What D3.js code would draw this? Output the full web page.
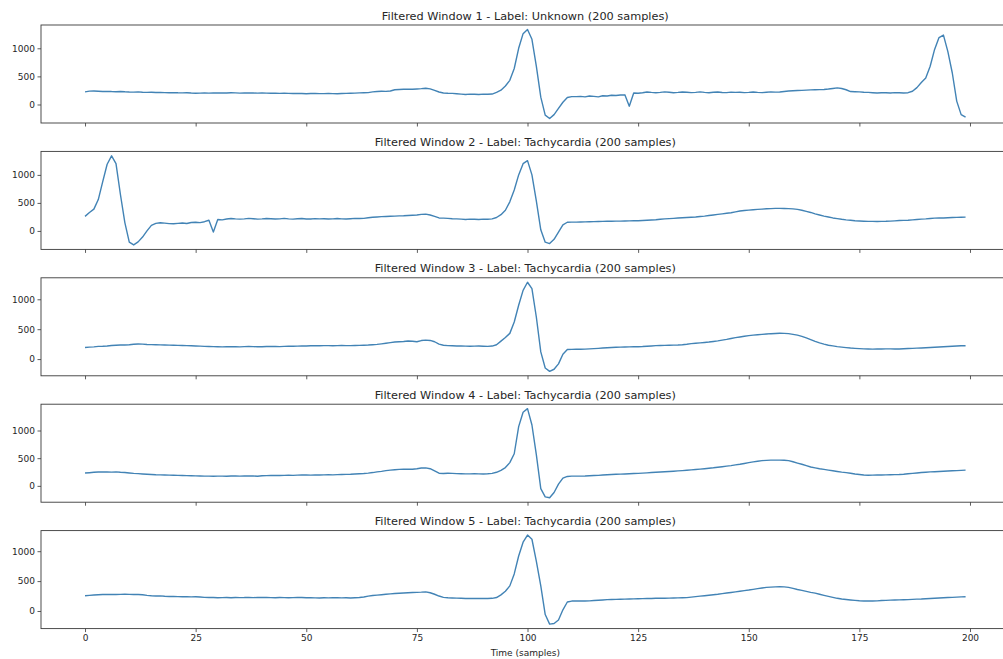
<!DOCTYPE html>
<html><head><meta charset="utf-8">
<script src="https://cdn.jsdelivr.net/npm/d3@7"></script>
<style>body{margin:0;background:#fff}svg{display:block}</style>
</head><body><svg id="c" width="1003" height="659"></svg>
<script>
const windowIds = [1, 2, 3, 4, 5];
const windowLabels = ["Unknown", "Tachycardia", "Tachycardia", "Tachycardia", "Tachycardia"];
const sampleCount = 200;
const xTicks = [0, 25, 50, 75, 100, 125, 150, 175, 200];
const yTicks = [0, 500, 1000];
const xLabel = "Time (samples)";

const w1 = [
225,238,240,236,232,234,230,228,232,226,
222,220,224,218,216,218,214,215,212,210,
212,208,206,210,204,200,202,206,203,205,
207,204,205,208,206,203,205,207,204,202,
205,203,200,202,198,200,197,195,198,196,
192,195,197,194,193,196,194,192,195,198,
200,203,206,210,212,225,232,236,234,240,
262,268,270,272,270,276,282,290,278,250,
222,205,200,198,192,185,178,185,182,178,
185,182,186,215,255,330,430,640,1000,1260,
1335,1160,680,130,-190,-250,-180,-70,40,125,
140,140,145,135,150,145,135,155,150,165,
160,168,172,-30,205,200,210,222,215,210,
215,225,218,210,215,222,218,212,216,224,
215,210,218,222,214,212,220,215,218,212,
215,222,216,212,218,225,220,222,232,240,
245,250,252,256,260,262,265,268,275,285,
295,285,262,230,228,225,218,215,210,205,
210,208,205,212,210,205,210,235,300,390,
470,680,980,1190,1235,940,560,60,-180,-225];

const w2 = [
260,330,390,560,880,1190,1340,1200,650,150,
-200,-250,-195,-110,0,100,135,145,140,130,
128,135,142,132,150,155,148,165,190,-20,
205,198,212,222,215,210,215,225,218,210,
215,222,218,212,216,224,215,210,218,222,
214,212,220,215,218,212,215,222,216,212,
218,225,222,225,235,245,250,255,258,262,
265,268,270,275,280,285,295,300,285,260,
232,228,225,218,215,210,205,210,208,205,
210,208,215,240,290,370,520,730,1000,1200,
1255,1000,530,20,-200,-225,-150,-20,110,155,
158,158,160,162,165,166,168,170,172,174,
175,176,178,180,181,183,186,190,195,200,
208,215,220,225,230,235,240,245,250,258,
265,275,285,295,305,315,325,340,355,365,
372,378,385,390,395,398,402,403,400,398,
393,385,370,350,330,305,285,265,248,232,
220,208,198,190,182,178,174,171,170,169,
170,172,176,180,185,188,192,198,205,210,
215,222,228,230,232,236,240,242,245,247];

const w3 = [
195,200,205,212,215,220,228,232,235,236,
240,248,252,250,245,242,240,238,236,234,
232,230,228,225,222,220,216,212,210,208,
206,205,207,208,206,205,208,210,208,206,
207,210,212,210,208,212,215,214,216,218,
220,222,224,222,225,226,224,225,228,226,
225,228,230,232,235,240,246,255,265,275,
285,290,295,302,298,290,310,318,312,290,
250,232,225,222,220,218,216,215,216,218,
215,212,218,240,300,360,430,620,900,1150,
1285,1180,700,120,-150,-205,-170,-80,80,160,
163,165,165,166,170,175,180,185,190,195,
198,200,202,204,206,207,210,215,220,225,
228,230,232,234,235,240,248,258,265,272,
278,285,295,305,318,330,345,358,370,382,
392,400,408,414,420,425,428,431,430,425,
414,400,380,355,325,295,270,250,232,220,
208,200,192,185,180,175,170,168,167,168,
168,170,170,168,168,172,176,180,183,186,
190,195,198,202,206,210,214,218,222,224];

const w4 = [
232,238,245,250,252,250,248,252,245,240,
232,225,220,215,210,205,200,198,195,193,
192,190,188,185,183,180,178,176,175,174,
175,176,174,177,178,176,178,180,178,174,
182,185,188,186,188,190,192,190,193,195,
196,194,197,195,198,200,198,202,205,208,
210,214,218,222,230,240,252,262,275,285,
292,298,300,302,300,310,322,325,310,270,
228,222,228,226,220,218,216,217,218,216,
215,218,225,245,280,330,420,580,1070,1330,
1395,1100,560,-50,-200,-215,-120,30,140,170,
175,176,176,178,182,186,190,195,200,205,
210,212,215,218,222,225,230,235,240,245,
250,255,260,265,270,276,282,288,295,302,
310,318,326,336,346,356,366,378,390,405,
420,433,445,455,460,464,465,464,462,455,
435,412,390,365,340,325,310,298,285,272,
260,248,238,228,215,205,195,192,194,196,
195,198,200,203,205,210,218,225,232,240,
246,252,256,260,264,268,272,276,280,284];

const w5 = [
255,262,268,272,275,276,278,277,278,280,
278,276,277,272,262,255,250,252,246,242,
245,240,238,240,236,238,235,228,225,226,
222,224,225,222,226,224,225,228,224,226,
225,228,224,222,225,223,222,224,228,226,
222,224,220,218,222,220,224,222,220,222,
218,222,226,235,248,258,265,272,280,286,
292,296,300,305,310,312,315,320,305,280,
250,228,222,218,215,212,210,208,210,208,
210,209,212,225,270,330,420,620,920,1150,
1270,1200,830,420,-60,-220,-210,-150,20,150,
166,168,167,168,170,175,180,185,190,193,
195,197,199,200,202,204,206,208,210,212,
213,214,216,218,220,222,224,232,240,248,
256,264,272,280,290,300,310,320,330,340,
350,362,375,385,395,400,404,406,404,395,
378,360,345,328,312,298,280,262,245,228,
212,200,192,185,178,172,168,166,168,170,
175,178,182,185,186,188,190,195,198,200,
205,210,214,218,222,225,228,232,236,238];

const series = [w1, w2, w3, w4, w5];

const svg = d3.select("#c");
svg.append("rect").attr("width", 1003).attr("height", 659).attr("fill", "#fff");

const left = 41, right = 1009.6, top0 = 25, step = 126.4, h = 98;
const font = "DejaVu Sans, sans-serif";
const n = sampleCount - 1;
const pad = n * 0.05;
const x = d3.scaleLinear().domain([-pad, n + pad]).range([left, right]);

series.forEach((vals, i) => {
  const top = top0 + i * step;
  const [mn, mx] = d3.extent(vals);
  const yp = (mx - mn) * 0.05;
  const y = d3.scaleLinear().domain([mn - yp, mx + yp]).range([top + h, top]);
  const g = svg.append("g");

  const ya = d3.axisLeft(y).tickValues(yTicks).tickSize(3.5).tickPadding(2.5).tickFormat(d3.format("d"));
  const yg = g.append("g").attr("transform", `translate(${left},0)`).call(ya);
  const last = i === series.length - 1;
  const xa = d3.axisBottom(x).tickValues(xTicks).tickSize(3.5).tickPadding(3)
    .tickFormat(last ? d3.format("d") : () => "");
  const xg = g.append("g").attr("transform", `translate(0,${top + h})`).call(xa);
  [yg, xg].forEach(a => {
    a.select(".domain").remove();
    a.selectAll(".tick line").attr("stroke", "#333").attr("stroke-width", 0.8);
    a.selectAll(".tick text").attr("fill", "#262626").style("font-family", font).style("font-size", "9px");
  });

  g.append("path").datum(vals)
    .attr("d", d3.line().x((d, j) => x(j)).y(d => y(d)))
    .attr("fill", "none").attr("stroke", "#4283b5").attr("stroke-width", 1.4)
    .attr("stroke-linejoin", "round");

  g.append("rect").attr("x", left).attr("y", top).attr("width", right - left).attr("height", h)
    .attr("fill", "none").attr("stroke", "#3a3a3a").attr("stroke-width", 0.9);

  g.append("text").attr("x", (left + right) / 2).attr("y", top - 5.5)
    .attr("text-anchor", "middle").style("font-family", font).style("font-size", "11.3px").attr("fill", "#262626")
    .text(`Filtered Window ${windowIds[i]} - Label: ${windowLabels[i]} (${sampleCount} samples)`);

  if (last) {
    g.append("text").attr("x", (left + right) / 2).attr("y", top + h + 27)
      .attr("text-anchor", "middle").style("font-family", font).style("font-size", "9px").attr("fill", "#262626")
      .text(xLabel);
  }
});
</script>
</body></html>
